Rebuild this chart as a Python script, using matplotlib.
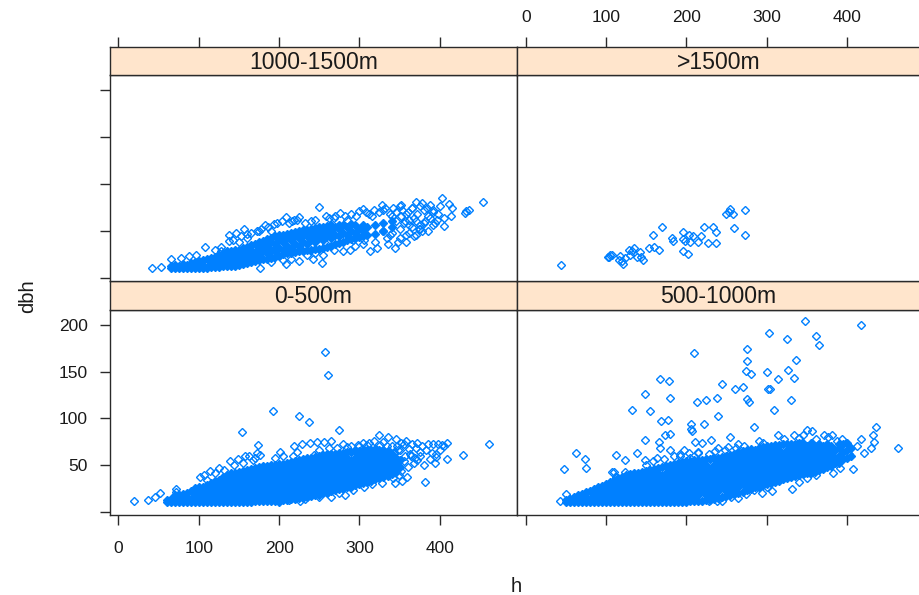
import numpy as np
import matplotlib
matplotlib.use("Agg")
import matplotlib.pyplot as plt

plt.rcParams['font.family'] = ['Liberation Sans', 'DejaVu Sans']

BLUE = "#0080ff"
STRIP = "#ffe5cc"
LINE = "#2a2a2a"
TEXT = "#1a1a1a"

x_ticks = [0, 100, 200, 300, 400]
y_ticks = [0, 50, 100, 150, 200]
y_labels = ["", "50", "100", "150", "200"]

# saturated part of each cloud, (h, [dbh values]) read column by column
core_low = [
    (60, [10, 13]), (65, [10, 14]), (70, [10, 14, 18]), (75, [10, 14, 18]), (80, [10, 14, 19]),
    (85, [10, 15, 20]), (90, [10, 14, 22]), (95, [10, 18, 25]), (100, [10, 14, 22, 26]),
    (105, [10, 18, 27]), (110, [10, 14, 22, 29]), (115, [10, 18, 26, 31]), (120, [10, 14, 22, 30, 33]),
    (125, [10, 18, 26, 34]), (130, [10, 14, 22, 30, 37]), (135, [10, 18, 26, 34, 39]),
    (140, [10, 14, 22, 30, 38, 41]), (145, [10, 18, 26, 34, 42]), (150, [10, 14, 22, 30, 38, 43]),
    (155, [10, 18, 26, 34, 42, 44]), (160, [10, 14, 22, 30, 38, 45]), (165, [10, 18, 26, 34, 42, 46]),
    (170, [11, 14, 22, 30, 38, 46, 47]), (175, [11, 18, 26, 34, 42, 48]), (180, [11, 14, 22, 30, 38, 46, 49]),
    (185, [11, 18, 26, 34, 42, 49]), (190, [12, 14, 22, 30, 38, 46, 50]), (195, [12, 18, 26, 34, 42, 50]),
    (200, [12, 16, 22, 30, 38, 46, 51]), (205, [13, 18, 26, 34, 42, 51]), (210, [13, 22, 30, 38, 46, 52]),
    (215, [14, 18, 26, 34, 42, 50, 53]), (220, [14, 22, 30, 38, 46, 54]), (225, [15, 18, 26, 34, 42, 50, 55]),
    (230, [15, 22, 30, 38, 46, 54, 56]), (235, [16, 18, 26, 34, 42, 50, 57]), (240, [17, 22, 30, 38, 46, 54, 58]),
    (245, [18, 26, 34, 42, 50, 58, 59]), (250, [18, 22, 30, 38, 46, 54, 60]), (255, [20, 26, 34, 42, 50, 58, 61]),
    (260, [20, 22, 30, 38, 46, 54, 62]), (265, [22, 26, 34, 42, 50, 58, 62]), (270, [23, 30, 38, 46, 54, 62]),
    (275, [24, 26, 34, 42, 50, 58, 63]), (280, [25, 30, 38, 46, 54, 63]), (285, [27, 34, 42, 50, 58, 64]),
    (290, [27, 30, 38, 46, 54, 64]), (295, [29, 34, 42, 50, 58, 65]), (300, [30, 38, 46, 54, 62, 65]),
    (305, [31, 34, 42, 50, 58, 66]), (310, [32, 38, 46, 54, 62, 66]), (315, [33, 42, 50, 58, 66]),
    (320, [35, 38, 46, 54, 62, 67]), (325, [36, 42, 50, 58, 66]), (330, [37, 46, 54, 62, 66]),
    (335, [38, 42, 50, 58, 65]), (340, [40, 46, 54, 62]), (345, [43, 50, 58]),
    (350, [48, 55]),
]

core_mid = [
    (50, [10, 13]), (55, [10, 14]), (60, [10, 16]), (65, [10, 14, 18]), (70, [10, 14, 19]),
    (75, [10, 16, 21]), (80, [10, 14, 22]), (85, [10, 18, 24]), (90, [10, 14, 22, 26]),
    (95, [10, 18, 28]), (100, [10, 14, 22, 30]), (105, [10, 18, 26, 32]), (110, [10, 14, 22, 30, 34]),
    (115, [10, 18, 26, 34, 36]), (120, [10, 14, 22, 30, 37]), (125, [10, 18, 26, 34, 39]),
    (130, [10, 14, 22, 30, 38, 40]), (135, [10, 18, 26, 34, 41]), (140, [10, 14, 22, 30, 38, 42]),
    (145, [10, 18, 26, 34, 43]), (150, [10, 14, 22, 30, 38, 44]), (155, [10, 18, 26, 34, 42, 45]),
    (160, [10, 14, 22, 30, 38, 46]), (165, [10, 18, 26, 34, 42, 47]), (170, [10, 14, 22, 30, 38, 48]),
    (175, [10, 18, 26, 34, 42, 49]), (180, [10, 14, 22, 30, 38, 46, 50]), (185, [10, 18, 26, 34, 42, 51]),
    (190, [10, 14, 22, 30, 38, 46, 52]), (195, [10, 18, 26, 34, 42, 50, 53]), (200, [10, 14, 22, 30, 38, 46, 54]),
    (205, [11, 18, 26, 34, 42, 50, 54]), (210, [11, 14, 22, 30, 38, 46, 55]), (215, [12, 18, 26, 34, 42, 50, 55]),
    (220, [12, 22, 30, 38, 46, 55]), (225, [13, 18, 26, 34, 42, 50, 56]), (230, [13, 22, 30, 38, 46, 56]),
    (235, [14, 18, 26, 34, 42, 50, 57]), (240, [15, 22, 30, 38, 46, 54, 58]), (245, [16, 26, 34, 42, 50, 59]),
    (250, [17, 22, 30, 38, 46, 54, 60]), (255, [18, 26, 34, 42, 50, 58, 61]), (260, [19, 22, 30, 38, 46, 54, 62]),
    (265, [20, 26, 34, 42, 50, 58, 64]), (270, [21, 30, 38, 46, 54, 62, 65]), (275, [23, 26, 34, 42, 50, 58, 66]),
    (280, [24, 30, 38, 46, 54, 62, 67]), (285, [26, 34, 42, 50, 58, 66]), (290, [27, 30, 38, 46, 54, 62, 68]),
    (295, [29, 34, 42, 50, 58, 66, 69]), (300, [30, 38, 46, 54, 62, 70]), (305, [31, 34, 42, 50, 58, 66, 70]),
    (310, [32, 38, 46, 54, 62, 71]), (315, [33, 42, 50, 58, 66, 71]), (320, [35, 38, 46, 54, 62, 72]),
    (325, [36, 42, 50, 58, 66, 72]), (330, [37, 46, 54, 62, 70, 73]), (335, [38, 42, 50, 58, 66, 73]),
    (340, [39, 46, 54, 62, 70, 74]), (345, [40, 42, 50, 58, 66, 74]), (350, [41, 46, 54, 62, 70]),
    (355, [42, 50, 58, 66, 74]), (360, [43, 46, 54, 62, 70]), (365, [45, 50, 58, 66, 73]),
    (370, [46, 54, 62, 70]), (375, [48, 50, 58, 66, 72]), (380, [49, 54, 62, 70]),
    (385, [52, 58, 66]), (390, [52, 60, 68, 72]), (395, [56, 64, 72]), (400, [58, 66, 74]), (405, [60, 68]),
]

core_high = [
    (65, [10, 13]), (70, [10, 14]), (75, [10, 13]), (80, [10, 15]), (85, [10, 14]), (90, [10, 16]),
    (95, [10, 14, 17]), (100, [10, 18]), (105, [10, 14, 19]), (110, [10, 20]), (115, [11, 15, 21]),
    (120, [11, 19, 22]), (125, [11, 15, 24]), (130, [12, 20, 26]), (135, [12, 16, 24, 28]),
    (140, [13, 20, 28]), (145, [13, 17, 25, 29]), (150, [14, 22, 30]), (155, [15, 19, 27, 32]),
    (160, [16, 24, 33]), (165, [17, 21, 29, 35]), (170, [18, 26, 36]), (175, [19, 23, 31, 38]),
    (180, [20, 28, 36, 39]), (185, [20, 26, 34, 41]), (190, [21, 30, 38, 42]), (195, [22, 28, 36, 44]),
    (200, [23, 32, 40, 45]), (205, [25, 30, 38, 46]), (210, [26, 34, 42, 47]), (215, [26, 32, 40, 48]),
    (220, [27, 36, 44, 49]), (225, [28, 34, 42, 50]), (230, [28, 38, 46, 51]), (235, [29, 36, 44, 51]),
    (240, [30, 40, 48, 52]), (245, [31, 38, 46, 53]), (250, [31, 42, 50, 54]), (255, [32, 40, 48, 54]),
    (260, [33, 44, 52, 55]), (265, [34, 42, 50, 56]), (270, [36, 46, 54]), (275, [37, 44, 52, 56]),
    (280, [38, 48, 56]), (285, [40, 46, 54]), (290, [41, 50, 57]), (295, [42, 48, 56]),
    (300, [43, 52]), (305, [44, 50, 56]), (310, [45, 54]), (320, [47, 56]), (330, [50, 58]), (340, [54, 60]),
]

# open rings visible on the fringes and away from the clouds
low_h = [257, 261, 192, 225, 237, 275, 154, 461, 429, 409, 409, 382, 394, 19, 37, 52, 45, 72, 71, 174,
         158, 219, 228, 239, 247, 256, 265, 324, 336, 312, 298, 101, 106, 110, 114, 120, 125, 131, 139,
         144, 149, 155, 163, 168, 172, 176, 170, 195, 201, 205, 217, 222, 243, 250, 262, 280, 290, 304,
         318, 330, 345, 352, 358, 365, 372, 378, 385, 392, 398, 403, 347, 355, 362, 370, 376, 383, 390,
         396, 343, 350, 357, 363, 369, 375, 306, 316, 328, 344, 353, 359, 349, 265, 250, 226, 232, 212,
         200, 275, 292, 282, 342, 405, 400, 395, 388, 380, 352, 360, 368, 356, 364, 372, 348, 340, 334,
         326, 310, 300, 272, 285]
low_dbh = [171, 146, 108, 102, 96, 88, 85, 72, 61, 74, 56, 32, 52, 11, 13, 20, 16, 24, 21, 71,
           60, 70, 73, 74, 75, 75, 76, 82, 80, 74, 71, 37, 39, 34, 44, 42, 47, 45, 54,
           50, 56, 52, 60, 55, 63, 61, 57, 58, 64, 60, 60, 64, 61, 66, 68, 72, 70, 74,
           76, 75, 78, 74, 76, 72, 74, 70, 72, 72, 73, 71, 70, 72, 67, 68, 64, 66, 63,
           62, 63, 66, 60, 62, 58, 60, 27, 30, 31, 31, 33, 37, 39, 16, 16, 11, 14, 13,
           10, 20, 23, 18, 36, 70, 66, 59, 56, 50, 44, 48, 52, 54, 60, 55, 66, 70, 70,
           71, 71, 70, 68, 69]

mid_h = [348, 417, 303, 361, 325, 365, 275, 209, 336, 275, 327, 274, 280, 300, 334, 314, 167, 179, 245,
         271, 261, 302, 304, 149, 180, 225, 238, 213, 276, 278, 330, 133, 155, 309, 240, 169, 177, 206,
         206, 207, 222, 284, 436, 432, 434, 430, 464, 417, 421, 407, 391, 383, 332, 307, 294, 264, 245,
         238, 48, 63, 74, 75, 112, 124, 138, 149, 166, 167, 180, 174, 180, 197, 211, 220, 231, 254, 264,
         314, 334, 350, 356, 371, 382, 43, 50, 107, 110, 113, 124, 164, 148, 192, 203, 215, 240, 252,
         290, 296, 322, 340, 345, 362, 376, 388, 394, 402, 412, 300, 340, 350, 362, 274, 284, 228, 256,
         150, 158, 172, 185, 192, 204, 215, 228, 236, 248, 262, 272]
mid_dbh = [204, 200, 191, 188, 185, 179, 174, 170, 162, 161, 152, 151, 148, 150, 143, 142, 142, 140, 137,
           134, 131, 131, 131, 126, 122, 120, 122, 118, 121, 118, 120, 109, 108, 109, 102, 97, 98, 94,
           89, 86, 94, 91, 91, 82, 75, 68, 68, 78, 63, 46, 47, 41, 24, 22, 20, 15, 12,
           12, 46, 63, 56, 47, 61, 55, 63, 77, 75, 68, 66, 82, 83, 66, 75, 74, 77, 80, 72,
           82, 82, 88, 86, 82, 82, 11, 19, 43, 43, 37, 43, 58, 55, 60, 63, 64, 68, 69,
           76, 74, 78, 79, 82, 78, 80, 76, 78, 62, 70, 27, 32, 36, 39, 19, 23, 11, 16,
           50, 54, 56, 60, 62, 58, 63, 62, 65, 66, 68, 70]

high_h = [42, 53, 65, 108, 137, 137, 156, 146, 165, 182, 209, 225, 250, 276, 304, 328, 353, 370, 388,
          403, 411, 415, 414, 405, 405, 433, 436, 431, 454, 254, 176, 313, 344, 288, 242, 209, 225, 78,
          88, 96, 120, 128, 150, 160, 172, 178, 190, 198, 216, 222, 240, 262, 270, 285, 296, 300, 312,
          318, 325, 332, 338, 346, 352, 360, 365, 372, 376, 380, 385, 392, 397, 357, 362, 368, 374, 380,
          386, 392, 398, 306, 320, 334, 350, 362, 368, 376, 150, 168, 192, 258, 292, 338,
          190, 205, 215, 235, 245, 255, 268, 280, 295, 305, 322, 335, 348, 358, 370, 378,
          128, 142, 152, 160, 175, 186, 194, 204, 212, 218, 232, 245, 258, 268, 282, 290, 308, 316, 330,
          342, 350, 358, 366, 378, 384, 392, 400, 330, 340, 350, 356, 362, 370, 375, 382, 388, 394, 345,
          352, 340, 358, 366]
high_dbh = [10, 11, 20, 33, 46, 39, 52, 48, 48, 56, 65, 65, 75, 69, 73, 77, 72, 81, 78,
            85, 79, 74, 66, 64, 55, 71, 72, 69, 81, 16, 10, 28, 32, 30, 20, 15, 18, 21,
            23, 24, 30, 28, 38, 42, 50, 52, 50, 58, 60, 62, 60, 64, 66, 62, 66, 71, 68,
            72, 70, 74, 68, 70, 77, 70, 74, 68, 76, 72, 66, 72, 62, 60, 56, 64, 52, 58,
            50, 56, 68, 40, 38, 42, 42, 48, 44, 52, 22, 26, 28, 36, 40, 46,
            17, 19, 20, 24, 26, 24, 30, 28, 34, 36, 32, 36, 38, 38, 46, 50,
            33, 40, 44, 47, 50, 54, 57, 60, 58, 62, 58, 62, 66, 64, 66, 68, 70, 66, 72,
            74, 76, 68, 74, 80, 74, 70, 76, 50, 48, 52, 58, 62, 60, 56, 60, 64, 58, 60,
            66, 66, 46, 54]

top_h = [44, 104, 105, 108, 102, 117, 116, 121, 120, 124, 129, 130, 135, 132, 142, 138, 143, 146, 154,
         160, 166, 158, 170, 182, 184, 196, 196, 199, 203, 208, 205, 196, 202, 214, 218, 222, 227, 233,
         237, 237, 250, 255, 253, 258, 260, 273, 273]
top_dbh = [14, 22, 24, 24, 22, 23, 19, 15, 18, 21, 29, 24, 32, 28, 27, 22, 22, 19, 32,
           33, 29, 46, 54, 42, 39, 49, 41, 39, 45, 44, 38, 28, 25, 38, 44, 54, 37, 54,
           49, 37, 68, 73, 70, 68, 53, 72, 46]

panels = [
    ("0-500m", 110, 517, 310, 515, core_low, low_h, low_dbh, 118.5),
    ("500-1000m", 517, 920, 310, 515, core_mid, mid_h, mid_dbh, 525.7),
    ("1000-1500m", 110, 517, 75, 281, core_high, high_h, high_dbh, 118.5),
    (">1500m", 517, 920, 75, 281, [], top_h, top_dbh, 525.7),
]

W, H = 920, 595
fig = plt.figure(figsize=(W / 100, H / 100), dpi=100)


def box(x0, x1, y0, y1):
    return [x0 / W, 1 - y1 / H, (x1 - x0) / W, (y1 - y0) / H]


for name, x0, x1, y0, y1, core, open_h, open_dbh, zero_px in panels:
    ax = fig.add_axes(box(x0, x1, y0, y1))
    xlim = ((x0 - zero_px) / 0.803, (x1 - zero_px) / 0.803)
    ax.set_xlim(xlim)
    ax.set_ylim(-3.5, 216)
    for sp in ax.spines.values():
        sp.set_linewidth(1.0)
        sp.set_color(LINE)

    core_x = [h for h, vals in core for v in vals]
    core_y = [v for h, vals in core for v in vals]
    ax.plot(core_x, core_y, ls="", marker="D", ms=3.9, mfc=BLUE, mec=BLUE, mew=1.0)
    ax.plot(open_h, open_dbh, ls="", marker="D", ms=3.9, mfc="none", mec=BLUE, mew=1.0)

    left = x0 == 110
    lower = y0 == 310
    ax.set_xticks(x_ticks)
    ax.set_yticks(y_ticks)
    ax.set_yticklabels(y_labels if lower else [""] * 5)
    ax.tick_params(axis="x", bottom=lower, top=False, labelbottom=lower and left,
                   length=7.5, width=1.0, color=LINE, labelsize=12.5, pad=11, labelcolor=TEXT)
    ax.tick_params(axis="y", left=left, right=False, labelleft=left and lower,
                   length=7.5, width=1.0, color=LINE, labelsize=12.5, pad=8.5, labelcolor=TEXT)

    # strip above the panel, carries the top ticks of the upper row
    st = fig.add_axes(box(x0, x1, y0 - 28 if not lower else 281, y0))
    st.set_facecolor(STRIP)
    st.set_xlim(xlim)
    st.set_ylim(0, 1)
    st.set_yticks([])
    for sp in st.spines.values():
        sp.set_linewidth(1.0)
        sp.set_color(LINE)
    if lower:
        st.set_xticks([])
    else:
        st.set_xticks(x_ticks)
        st.tick_params(axis="x", bottom=False, labelbottom=False, top=True, labeltop=not left,
                       length=7.5, width=1.0, color=LINE, labelsize=12.5, pad=8, labelcolor=TEXT)
    st.text(0.5, 0.45, name, transform=st.transAxes, ha="center", va="center",
            fontsize=16.6, color=TEXT)

fig.text(516 / W, 1 - 587 / H, "h", ha="center", va="center", fontsize=14.5, color=TEXT)
fig.text(28 / W, 1 - 296 / H, "dbh", ha="center", va="center", rotation=90, fontsize=14.5, color=TEXT)

fig.savefig("out.png", dpi=100)
